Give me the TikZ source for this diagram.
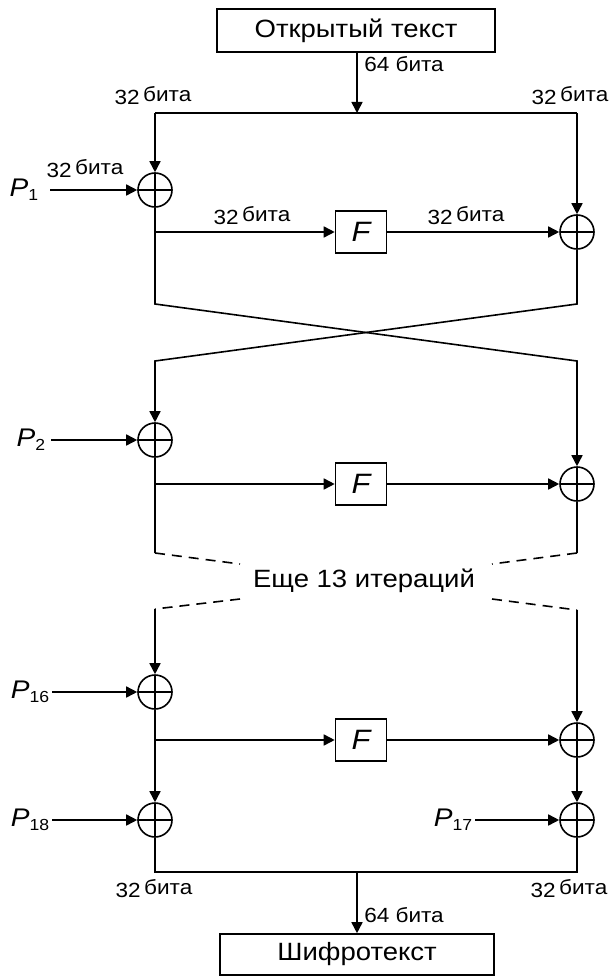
\documentclass[tikz,border=0pt]{standalone}
\usepackage{fontspec}
\setmainfont[FakeStretch=1.1]{Liberation Sans}
\usetikzlibrary{arrows.meta}
\newcommand{\bits}[1]{#1\,\raisebox{3pt}{бита}}
\newcommand{\Psub}[1]{\textit{P}\raisebox{-4pt}{\fontsize{16}{16}\selectfont #1}}
\begin{document}
\begin{tikzpicture}[x=1pt,y=-1pt,line width=1.6pt,
  arr/.style={-{Triangle[length=11pt,width=11pt]}},
  xor/.style={circle,draw,minimum size=34pt,inner sep=0pt,
    path picture={\draw (path picture bounding box.north) -- (path picture bounding box.south)
                        (path picture bounding box.west) -- (path picture bounding box.east);}},
  bigbox/.style={draw,minimum width=278pt,minimum height=43pt,inner sep=0pt,font=\fontsize{25}{28}\selectfont},
  fbox/.style={draw,minimum width=51pt,minimum height=42pt,inner sep=0pt,font=\fontsize{28}{30}\selectfont\itshape},
  lbl/.style={font=\fontsize{20.5}{22}\selectfont,inner sep=0pt},
  plbl/.style={font=\fontsize{25.5}{28}\selectfont,inner sep=0pt,anchor=east},
  dsh/.style={dash pattern=on 10pt off 7pt}]
\useasboundingbox (0,0) rectangle (609,976);
% boxes
\node[bigbox] (pt) at (356,30.5) {Открытый текст};
\node[bigbox,minimum width=274pt,minimum height=41pt] (ct) at (357,954.5) {Шифротекст};
% top split
\coordinate (tl) at (155,113);
\coordinate (tr) at (577,113);
\coordinate (tm) at (357,113);
\draw (tl) -- (tr);
\draw[arr] (pt.south -| tm) -- (tm);
\node[lbl] at (404,64) {64 бита};
\node[lbl] at (153,96) {\bits{32}};
\node[lbl] at (570,96) {\bits{32}};
% round 1
\node[xor] (x1l) at (155,190) {};
\node[fbox] (f1) at (361,232) {F};
\node[xor] (x1r) at (577,232) {};
\node[plbl] (p1) at (39,190) {\Psub{1}};
\draw[arr] (tl) -- (x1l);
\draw[arr] (tr) -- (x1r);
\draw[arr,shorten <=11pt] (p1.east |- x1l) -- (x1l);
\draw[arr] (x1l |- f1) -- (f1);
\draw[arr] (f1) -- (x1r);
\node[lbl] at (85,169) {\bits{32}};
\node[lbl] at (252,216) {\bits{32}};
\node[lbl] at (466,216) {\bits{32}};
% cross
\coordinate (c1l) at (155,304);
\coordinate (c1r) at (577,304);
\coordinate (c2l) at (155,361);
\coordinate (c2r) at (577,361);
% round 2
\node[xor] (x2l) at (155,440) {};
\node[fbox] (f2) at (361,484) {F};
\node[xor] (x2r) at (577,484) {};
\node[plbl] (p2) at (46,440) {\Psub{2}};
\draw[arr] (x1l) -- (c1l) -- (c2r) -- (x2r);
\draw[arr] (x1r) -- (c1r) -- (c2l) -- (x2l);
\draw[arr,shorten <=5pt] (p2.east |- x2l) -- (x2l);
\draw[arr] (x2l |- f2) -- (f2);
\draw[arr] (f2) -- (x2r);
% dashed gap
\coordinate (d1l) at (155,553);
\coordinate (d1r) at (577,553);
\coordinate (e1l) at (240,564);
\coordinate (e1r) at (492,564);
\coordinate (e2l) at (240,599);
\coordinate (e2r) at (492,599);
\coordinate (d2l) at (155,609);
\coordinate (d2r) at (577,610);
\draw (x2l) -- (d1l);
\draw (x2r) -- (d1r);
\draw[dsh] (d1l) -- (e1l);
\draw[dsh] (d1r) -- (e1r);
\draw[dsh] (e2l) -- (d2l);
\draw[dsh] (e2r) -- (d2r);
\node[font=\fontsize{25}{28}\selectfont] (it) at (364,581) {Еще 13 итераций};
% round 3
\node[xor] (x3l) at (155,692) {};
\node[fbox] (f3) at (361,740) {F};
\node[xor] (x3r) at (577,740) {};
\node[plbl] (p16) at (50,692) {\Psub{16}};
\draw[arr] (d2l) -- (x3l);
\draw[arr] (d2r) -- (x3r);
\draw[arr,shorten <=2pt] (p16.east |- x3l) -- (x3l);
\draw[arr] (x3l |- f3) -- (f3);
\draw[arr] (f3) -- (x3r);
% final whitening
\node[xor] (x18) at (155,820) {};
\node[xor] (x17) at (577,820) {};
\node[plbl] (p18) at (50,820) {\Psub{18}};
\node[plbl] (p17) at (473,820) {\Psub{17}};
\draw[arr] (x3l) -- (x18);
\draw[arr] (x3r) -- (x17);
\draw[arr,shorten <=2pt] (p18.east |- x18) -- (x18);
\draw[arr,shorten <=2pt] (p17.east |- x17) -- (x17);
% bottom join
\coordinate (bl) at (155,872);
\coordinate (br) at (577,872);
\coordinate (bm) at (357,872);
\draw (x18) -- (bl) -- (br) -- (x17);
\draw[arr] (bm) -- (ct.north -| bm);
\node[lbl] at (154,889) {\bits{32}};
\node[lbl] at (569,889) {\bits{32}};
\node[lbl] at (404,915) {64 бита};
\end{tikzpicture}
\end{document}
